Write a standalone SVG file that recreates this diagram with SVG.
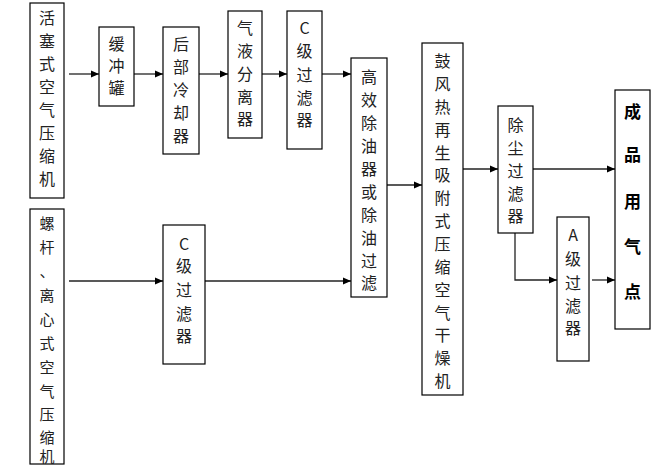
<svg xmlns="http://www.w3.org/2000/svg" width="666" height="468" viewBox="0 0 666 468">
<defs>
<marker id="ar" markerWidth="8" markerHeight="8" refX="8" refY="4" orient="auto" markerUnits="userSpaceOnUse"><path d="M0,0.5 L8,4 L0,7.5 z" fill="#000"/></marker>
<style>
rect{fill:#fff;stroke:#000;stroke-width:1.2}
text{font-family:"Noto Sans CJK SC","Liberation Serif",sans-serif;font-size:16px;fill:#222;text-anchor:middle;dominant-baseline:central}
.s{font-size:15px}
.b{font-weight:bold;font-size:17px;fill:#000}
line,polyline{stroke:#222;stroke-width:1.3;fill:none}
.a{marker-end:url(#ar)}
</style>
</defs>
<rect width="666" height="468" style="fill:#fff;stroke:none"/>
<g id="connectors">
<line class="a" x1="69" y1="74" x2="99" y2="74"/>
<line class="a" x1="134" y1="74" x2="163" y2="74"/>
<line class="a" x1="199" y1="74" x2="228" y2="74"/>
<line class="a" x1="262" y1="74" x2="287" y2="74"/>
<line class="a" x1="322" y1="74" x2="351" y2="74"/>
<line class="a" x1="69" y1="281" x2="163" y2="281"/>
<line class="a" x1="205" y1="281" x2="351" y2="281"/>
<line class="a" x1="387" y1="185" x2="422" y2="185"/>
<line class="a" x1="463" y1="169" x2="498" y2="169"/>
<line class="a" x1="533" y1="169" x2="615" y2="169"/>
<polyline class="a" points="515,233 515,280 557,280"/>
<line class="a" x1="592" y1="280" x2="615" y2="280"/>
</g>
<g id="piston"><rect x="30" y="3" width="34" height="195"/>
<text x="47" y="17">活</text><text x="47" y="40">塞</text><text x="47" y="63">式</text><text x="47" y="86">空</text><text x="47" y="109">气</text><text x="47" y="132">压</text><text x="47" y="155">缩</text><text x="47" y="178">机</text></g>
<g id="buffer"><rect x="99" y="27" width="35" height="79"/>
<text x="116.5" y="43">缓</text><text x="116.5" y="65">冲</text><text x="116.5" y="87">罐</text></g>
<g id="cooler"><rect x="163" y="27" width="36" height="127"/>
<text x="181" y="43">后</text><text x="181" y="66">部</text><text x="181" y="89">冷</text><text x="181" y="112">却</text><text x="181" y="135">器</text></g>
<g id="separator"><rect x="228" y="11" width="34" height="127"/>
<text x="245" y="27">气</text><text x="245" y="50">液</text><text x="245" y="73">分</text><text x="245" y="96">离</text><text x="245" y="118">器</text></g>
<g id="cfilter1"><rect x="287" y="11" width="35" height="138"/>
<text x="304.5" y="27">C</text><text x="304.5" y="50">级</text><text x="304.5" y="74">过</text><text x="304.5" y="97">滤</text><text x="304.5" y="119">器</text></g>
<g id="screw"><rect x="30" y="209" width="34" height="255"/>
<text class="s" x="47" y="222">螺</text><text class="s" x="47" y="246">杆</text><text class="s" x="47" y="270">、</text><text class="s" x="47" y="294">离</text><text class="s" x="47" y="318">心</text><text class="s" x="47" y="342">式</text><text class="s" x="47" y="366">空</text><text class="s" x="47" y="390">气</text><text class="s" x="47" y="413">压</text><text class="s" x="47" y="436">缩</text><text class="s" x="47" y="455">机</text></g>
<g id="cfilter2"><rect x="163" y="225" width="42" height="139"/>
<text x="184" y="243">C</text><text x="184" y="265">级</text><text x="184" y="289">过</text><text x="184" y="313">滤</text><text x="184" y="335">器</text></g>
<g id="oil"><rect x="351" y="58" width="36" height="239"/>
<text x="369" y="76">高</text><text x="369" y="99">效</text><text x="369" y="122">除</text><text x="369" y="145">油</text><text x="369" y="168">器</text><text x="369" y="191">或</text><text x="369" y="214">除</text><text x="369" y="237">油</text><text x="369" y="260">过</text><text x="369" y="282">滤</text></g>
<g id="dryer"><rect x="422" y="43" width="41" height="352"/>
<text x="442.5" y="60">鼓</text><text x="442.5" y="83">风</text><text x="442.5" y="106">热</text><text x="442.5" y="129">再</text><text x="442.5" y="152">生</text><text x="442.5" y="174">吸</text><text x="442.5" y="197">附</text><text x="442.5" y="220">式</text><text x="442.5" y="243">压</text><text x="442.5" y="266">缩</text><text x="442.5" y="289">空</text><text x="442.5" y="312">气</text><text x="442.5" y="334">干</text><text x="442.5" y="357">燥</text><text x="442.5" y="380">机</text></g>
<g id="dust"><rect x="498" y="106" width="35" height="127"/>
<text x="515.5" y="124">除</text><text x="515.5" y="147">尘</text><text x="515.5" y="170">过</text><text x="515.5" y="193">滤</text><text x="515.5" y="215">器</text></g>
<g id="afilter"><rect x="557" y="217" width="32" height="144"/>
<text x="573" y="234">A</text><text x="573" y="258">级</text><text x="573" y="282">过</text><text x="573" y="305">滤</text><text x="573" y="327">器</text></g>
<g id="point"><rect x="615" y="90" width="35" height="239"/>
<text class="b" x="632.5" y="110">成</text><text class="b" x="632.5" y="153">品</text><text class="b" x="632.5" y="200">用</text><text class="b" x="632.5" y="245">气</text><text class="b" x="632.5" y="290">点</text></g>
</svg>
